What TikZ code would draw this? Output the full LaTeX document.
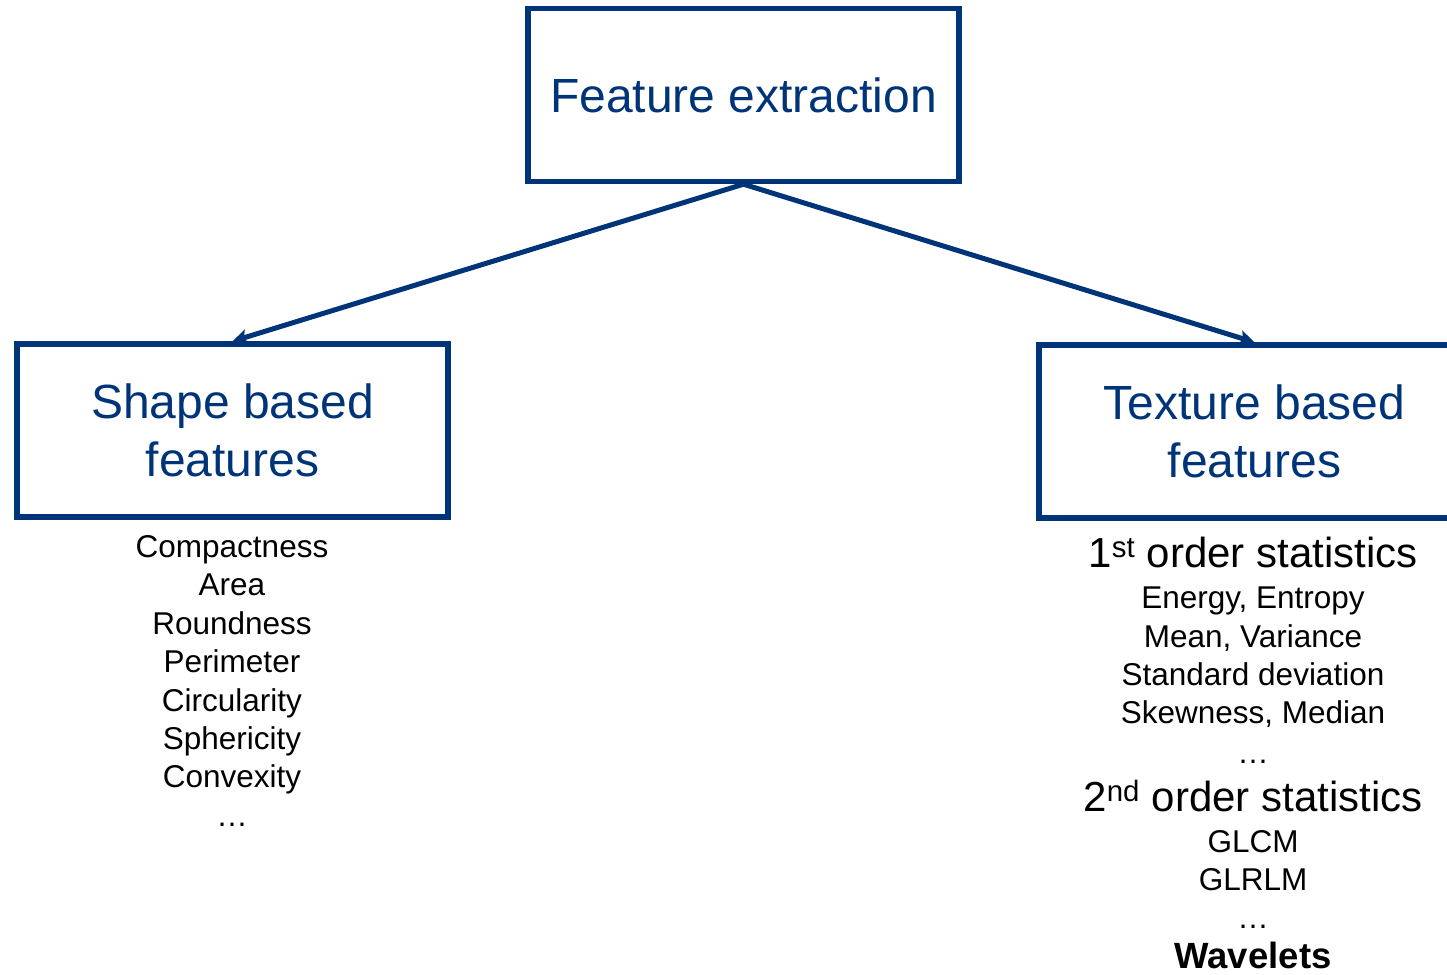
\documentclass[tikz,border=0pt]{standalone}
\usepackage{fontspec}
\setmainfont{Liberation Sans}
\usetikzlibrary{arrows.meta}
\definecolor{navy}{RGB}{0,52,120}

\begin{document}
\begin{tikzpicture}[x=1pt,y=-1pt,
  box/.style={draw=navy,line width=5.4pt,minimum width=431pt,minimum height=173pt,
    inner sep=0pt,align=center,text=navy,font=\fontsize{48}{58}\selectfont},
  link/.style={draw=navy,line width=5pt,-{Stealth[length=15pt,width=15pt,inset=3pt]}},
  item/.style={anchor=base,inner sep=0pt,font=\fontsize{31.5}{38}\selectfont},
  head/.style={anchor=base,inner sep=0pt,font=\fontsize{42}{50}\selectfont}]
\clip (0,0) rectangle (1447,974);
\useasboundingbox (0,0) rectangle (1447,974);

% the three boxes
\node[box] (top)   at (743.5,95)   {Feature extraction};
\node[box] (shape) at (232.5,430.5) {Shape based\\features};
\node[box] (tex)   at (1254.5,431.5) {Texture based\\features};

% connectors
\draw[link] (top.south) -- (shape.north);
\draw[link] (top.south) -- (tex.north);

% shape feature list
\node[item] (s1) at (232,557) {Compactness};
\node[item] (s2) at (232,595) {Area};
\node[item] (s3) at (232,634) {Roundness};
\node[item] (s4) at (232,672) {Perimeter};
\node[item] (s5) at (232,711) {Circularity};
\node[item] (s6) at (232,749) {Sphericity};
\node[item] (s7) at (232,787) {Convexity};
\node[item] (s8) at (232,826) {\dots};

% texture feature list
\node[head] (t1)  at (1253,567) {1\textsuperscript{st} order statistics};
\node[item] (t2)  at (1253,608) {Energy, Entropy};
\node[item] (t3)  at (1253,647) {Mean, Variance};
\node[item] (t4)  at (1253,685) {Standard deviation};
\node[item] (t5)  at (1253,723) {Skewness, Median};
\node[item] (t6)  at (1253,763) {\dots};
\node[head] (t7)  at (1253,811) {2\textsuperscript{nd} order statistics};
\node[item] (t8)  at (1253,852) {GLCM};
\node[item] (t9)  at (1253,890) {GLRLM};
\node[item] (t10) at (1253,928) {\dots};
\node[item,font=\fontsize{36.5}{42}\selectfont\bfseries] (t11) at (1253,968) {Wavelets};
\end{tikzpicture}
\end{document}
